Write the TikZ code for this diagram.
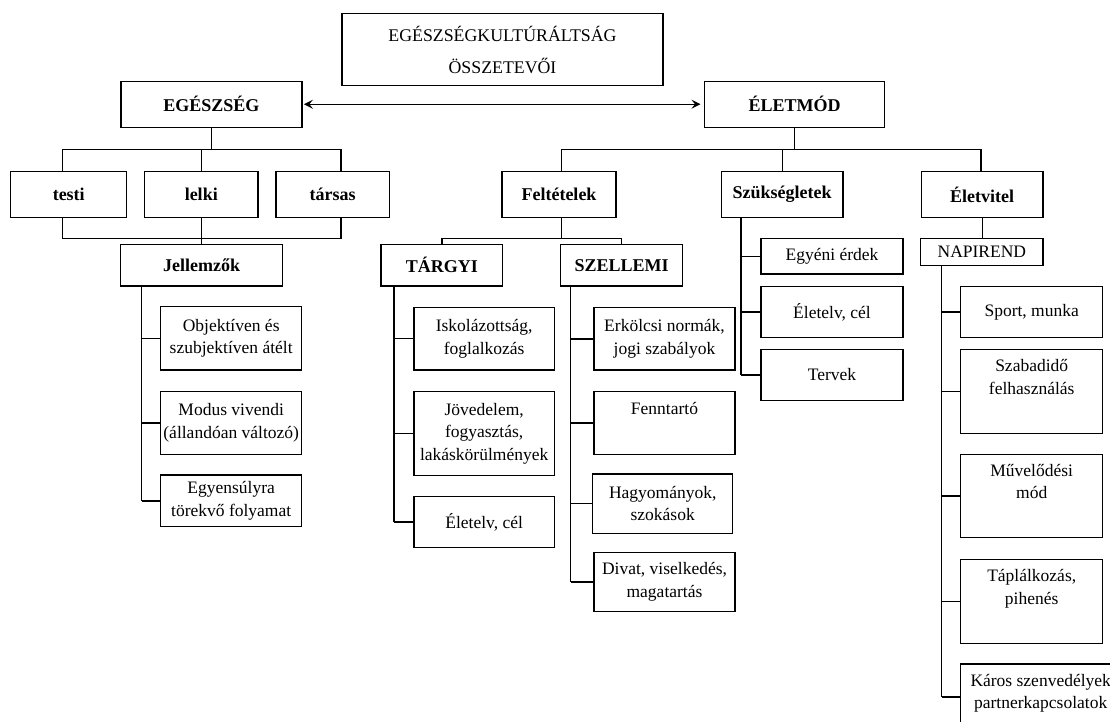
\documentclass[tikz,border=0pt]{standalone}
\usepackage{fontspec}
\setmainfont{Liberation Serif}
\usetikzlibrary{arrows.meta}
\begin{document}
\begin{tikzpicture}[x=1pt,y=-1pt,line width=1.3pt,
  box/.style={draw,rectangle,inner sep=0pt,outer sep=0pt,align=center,
    font=\fontsize{17.5}{22.5}\selectfont},
  bbox/.style={box,font=\fontsize{18}{22}\selectfont\bfseries},
  sz/.style 2 args={minimum width=#1pt,minimum height=#2pt}]
\useasboundingbox (0,0) rectangle (1110,721);
\clip (0,0) rectangle (1110,721);

% title and top level
\node[box,sz={321}{72},font=\fontsize{17.8}{22}\selectfont] (title) at (502.5,49.7)
  {EGÉSZSÉGKULTÚRÁLTSÁG\\[10pt]ÖSSZETEVŐI};
\node[bbox,sz={181}{46}] (ege) at (211.4,104.2) {EGÉSZSÉG};
\node[bbox,sz={180}{46}] (elet) at (794.5,104.2) {ÉLETMÓD};
\draw[{Stealth[length=9pt,width=9pt,inset=3.5pt]}-{Stealth[length=9pt,width=9pt,inset=3.5pt]},
  shorten <=2pt,shorten >=4pt] (ege.east) -- (elet.west);

% second row
\node[bbox,sz={116}{46}] (testi) at (68.75,194.5) {testi};
\node[bbox,sz={113.3}{46}] (lelki) at (201.25,194.5) {lelki};
\node[bbox,sz={113.3}{46}] (tarsas) at (332.65,194.5) {társas};
\node[bbox,sz={114.2}{46}] (felt) at (559,194.5) {Feltételek};
\node[bbox,sz={121.5}{46}] (szuk) at (782.15,194.5) {Szükségletek};
\node[bbox,sz={121.5}{46}] (eletv) at (982.15,194.5) {Életvitel};

% third row
\node[bbox,sz={162}{41.7}] (jell) at (201.7,265.2) {Jellemzők};
\node[bbox,sz={121.7}{41.7}] (targ) at (441.85,265.2) {TÁRGYI};
\node[bbox,sz={122}{41.7}] (szel) at (621.7,265.2) {SZELLEMI};
\node[box,sz={142}{35.4}] (egyeni) at (832,256.3) {Egyéni érdek};
\node[box,sz={122.3}{27.1}] (nap) at (981.85,252.2) {NAPIREND};

% Jellemzők column
\node[box,sz={141}{63.3}] (obj) at (231.2,338.35) {Objektíven és\\szubjektíven átélt};
\node[box,sz={141}{62.6}] (mod) at (231.2,423) {Modus vivendi\\(állandóan változó)};
\node[box,sz={141}{51.7}] (egy) at (231.2,500.85) {Egyensúlyra\\törekvő folyamat};

% TÁRGYI column
\node[box,sz={140.3}{62.7}] (isk) at (484.15,338.65) {Iskolázottság,\\foglalkozás};
\node[box,sz={140.3}{84}] (jov) at (484.15,433.7) {Jövedelem,\\fogyasztás,\\lakáskörülmények};
\node[box,sz={140.3}{50.6}] (eletc) at (484.15,522) {Életelv, cél};

% SZELLEMI column
\node[box,sz={141}{62.3}] (erk) at (664.5,338.85) {Erkölcsi normák,\\jogi szabályok};
\node[box,sz={141}{62.6}] (fenn) at (664.5,423) {Fenntartó\\\strut};
\node[box,sz={140}{59.3}] (hagy) at (662.7,503.65) {Hagyományok,\\szokások};
\node[box,sz={141}{59.4}] (divat) at (664.5,582) {Divat, viselkedés,\\magatartás};

% Szükségletek column
\node[box,sz={142}{50.6}] (eletc2) at (832,312) {Életelv, cél};
\node[box,sz={142}{51.4}] (terv) at (832,375) {Tervek};

% NAPIREND column
\node[box,sz={142}{50.6}] (sport) at (1031.7,312) {Sport, munka};
\node[box,sz={142}{84}] (szab) at (1031.7,391.3) {Szabadidő\\felhasználás\\\strut};
\node[box,sz={142}{83.4}] (muv) at (1031.7,496) {Művelődési\\mód\\\strut};
\node[box,sz={142}{84}] (tapl) at (1031.7,601.3) {Táplálkozás,\\pihenés\\\strut};
\node[box,sz={160}{84}] (karos) at (1040.7,706) {Káros szenvedélyek\\partnerkapcsolatok\\\strut};

% EGÉSZSÉG connectors
\coordinate (ej1) at (62.5,149.3);
\coordinate (ej2) at (341,149.3);
\coordinate (eb1) at (62.5,238.6);
\coordinate (eb2) at (341,238.6);
\draw (ege.south) -- (ege.south |- ej1);
\draw (testi.north -| ej1) -- (ej1) -- (ej2) -- (tarsas.north -| ej2);
\draw (lelki.north) -- (lelki.north |- ej1);
\draw (testi.south -| eb1) -- (eb1) -- (eb2) -- (tarsas.south -| eb2);
\draw (lelki.south) -- (lelki.south |- jell.north);

% ÉLETMÓD connectors
\coordinate (lj1) at (561.8,149.3);
\coordinate (lj2) at (981,149.3);
\coordinate (fj1) at (441.85,238.6);
\coordinate (fj2) at (621.7,238.6);
\draw (elet.south) -- (elet.south |- lj1);
\draw (felt.north -| lj1) -- (lj1) -- (lj2) -- (eletv.north -| lj2);
\draw (szuk.north) -- (szuk.north |- lj1);
\draw (felt.south -| lj1) -- (lj1 |- fj1);
\draw (targ.north) -- (fj1) -- (fj2) -- (szel.north);
\draw (eletv.south) -- (eletv.south |- nap.north);

% tree columns
\coordinate (jx) at ([xshift=21pt]jell.south west);
\draw (jx) -- (jx |- egy.west);
\foreach \n in {obj,mod,egy} \draw (jx |- \n.west) -- (\n.west);

\coordinate (tx) at ([xshift=13pt]targ.south west);
\draw (tx) -- (tx |- eletc.west);
\foreach \n in {isk,jov,eletc} \draw (tx |- \n.west) -- (\n.west);

\coordinate (sx) at ([xshift=10pt]szel.south west);
\draw (sx) -- (sx |- divat.west);
\foreach \n in {erk,fenn,hagy,divat} \draw (sx |- \n.west) -- (\n.west);

\coordinate (kx) at ([xshift=19.6pt]szuk.south west);
\draw (kx) -- (kx |- terv.west);
\foreach \n in {egyeni,eletc2,terv} \draw (kx |- \n.west) -- (\n.west);

\coordinate (nx) at ([xshift=21pt]nap.south west);
\coordinate (kb) at ([yshift=9pt]karos.west);
\draw (nx) -- (nx |- kb);
\foreach \n in {sport,szab,muv,tapl} \draw (nx |- \n.west) -- (\n.west);
\draw (nx |- kb) -- (kb);
\end{tikzpicture}
\end{document}
